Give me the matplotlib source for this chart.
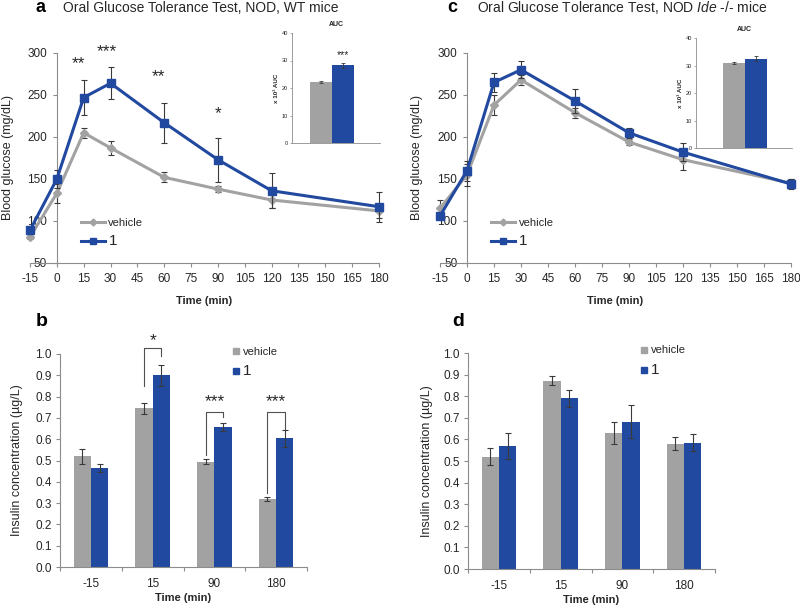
import matplotlib
matplotlib.use('Agg')
import matplotlib.pyplot as plt
from matplotlib.lines import Line2D

plt.rcParams['font.family'] = ['Liberation Sans', 'DejaVu Sans']
plt.rcParams['mathtext.fontset'] = 'custom'
plt.rcParams['mathtext.rm'] = 'Liberation Sans'
plt.rcParams['mathtext.it'] = 'Liberation Sans:italic'
plt.rcParams['axes.unicode_minus'] = False

GRAY = '#a2a2a2'
BLUE = '#2149a0'
ERR = '#3a3a3a'
AXC = '#8c8c8c'
TXT = '#262626'

# OGTT time points (min)
ogtt_time = [-15, 0, 15, 30, 60, 90, 120, 180]

# panel a: NOD, WT mice
wt_vehicle = [81, 133, 205, 187, 152, 138, 125, 112]
wt_vehicle_err = [3, 11, 6, 8, 6, 4, 10, 8]
wt_cmpd = [89, 150, 247, 264, 217, 173, 136, 117]
wt_cmpd_err = [4, 11, 21, 19, 24, 26, 21, 18]
wt_star_x = [12, 28, 57, 90]
wt_star_y = [287, 302, 272, 228]
wt_star_txt = ['**', '***', '**', '*']

# panel c: NOD Ide -/- mice
ide_vehicle = [115, 155, 238, 268, 229, 194, 173, 145]
ide_vehicle_err = [10, 13, 12, 6, 6, 4, 12, 5]
ide_cmpd = [106, 160, 265, 280, 243, 205, 182, 144]
ide_cmpd_err = [3, 12, 11, 10, 14, 6, 11, 6]

# AUC insets (x 10^3)
wt_auc = [22.3, 28.2]
wt_auc_err = [0.3, 1.0]
ide_auc = [30.8, 32.5]
ide_auc_err = [0.3, 0.9]

# insulin (ug/L)
ins_time = ['-15', '15', '90', '180']
wt_ins_vehicle = [0.52, 0.745, 0.495, 0.32]
wt_ins_vehicle_err = [0.035, 0.025, 0.01, 0.01]
wt_ins_cmpd = [0.465, 0.90, 0.658, 0.605]
wt_ins_cmpd_err = [0.02, 0.05, 0.02, 0.04]
ide_ins_vehicle = [0.52, 0.872, 0.63, 0.58]
ide_ins_vehicle_err = [0.04, 0.022, 0.05, 0.03]
ide_ins_cmpd = [0.57, 0.79, 0.682, 0.585]
ide_ins_cmpd_err = [0.06, 0.04, 0.075, 0.04]

# significance brackets in panel b: category, top, left end, right end, stars
br_cat = [1, 2, 3]
br_top = [1.03, 0.727, 0.727]
br_left = [0.85, 0.527, 0.347]
br_right = [0.99, 0.703, 0.65]
br_star_y = [1.062, 0.775, 0.775]
br_star = ['*', '***', '***']

W, H = 800, 607
fig = plt.figure(figsize=(8, 6.07), dpi=100)


def px(x0, y0, x1, y1):
    # axes rectangle from pixel box (left, top, right, bottom)
    return [x0 / W, 1 - y1 / H, (x1 - x0) / W, (y1 - y0) / H]


def style_axes(ax):
    for s in ['top', 'right']:
        ax.spines[s].set_visible(False)
    for s in ['left', 'bottom']:
        ax.spines[s].set_color(AXC)
        ax.spines[s].set_linewidth(0.8)
    ax.tick_params(colors=AXC, labelcolor=TXT, width=0.8)
    ax.set_facecolor('none')


def ogtt_panel(ax, veh, veh_err, cmp, cmp_err, ylab_x):
    style_axes(ax)
    for vals, errs, col, mk, ms, lab, z in [
            (veh, veh_err, GRAY, 'D', 4.5, 'vehicle', 3),
            (cmp, cmp_err, BLUE, 's', 5.5, '1', 4)]:
        eb = ax.errorbar(ogtt_time, vals, yerr=errs, color=col, lw=2.2,
                         marker=mk, ms=ms, mec=col, ecolor=ERR, elinewidth=0.8,
                         capsize=2.5, capthick=0.8, label=lab, zorder=z)
        eb[0].set_clip_on(False)
        for part in eb[1] + eb[2]:
            part.set_clip_on(False)
    ax.set_xlim(-15, 180)
    ax.set_ylim(50, 300)
    ax.set_xticks(range(-15, 181, 15))
    ax.set_yticks(range(50, 301, 50))
    ax.spines['left'].set_position(('data', 0))
    ax.tick_params(axis='both', direction='out', length=3, labelsize=8.5, pad=4)
    ax.set_xlabel('Time (min)', fontsize=8, fontweight='bold', color=TXT)
    ax.xaxis.set_label_coords(0.5, -0.155)
    ax.set_ylabel('Blood glucose (mg/dL)', fontsize=9, color=TXT, va='center')
    ax.yaxis.set_label_coords(ylab_x, 0.5)
    h = [Line2D([], [], color=GRAY, lw=2.2, marker='D', ms=3.5),
         Line2D([], [], color=BLUE, lw=2.2, marker='s', ms=5)]
    leg = ax.legend(h, ['vehicle', '1'], loc='upper left',
                    bbox_to_anchor=(0.145, 0.215), frameon=False, fontsize=8,
                    handlelength=2.2, handletextpad=0.3, labelspacing=0.55,
                    borderpad=0, borderaxespad=0)
    leg.get_texts()[1].set_fontsize(11)
    for t in leg.get_texts():
        t.set_color(TXT)


def auc_inset(ax, vals, errs, xpos, width):
    style_axes(ax)
    ax.bar(xpos, vals, width=width, color=[GRAY, BLUE], yerr=errs,
           error_kw=dict(ecolor=ERR, elinewidth=0.6, capsize=1.2, capthick=0.6))
    ax.set_xlim(0, 4)
    ax.set_ylim(0, 40)
    ax.set_yticks([0, 10, 20, 30, 40])
    ax.set_xticks([])
    ax.spines['left'].set_linewidth(0.6)
    ax.spines['bottom'].set_linewidth(0.6)
    ax.tick_params(axis='y', length=1.5, labelsize=4, pad=1.5, width=0.5)
    ax.set_ylabel('x 10³ AUC', fontsize=4.5, fontweight='bold', labelpad=2,
                  color=TXT)
    ax.set_title('AUC', fontsize=5, fontweight='bold', pad=5, color=TXT)


def insulin_panel(ax, veh, veh_err, cmp, cmp_err, ylab_x, leg_anchor):
    style_axes(ax)
    w = 0.28
    xs = range(len(ins_time))
    ek = dict(ecolor=ERR, elinewidth=0.8, capsize=2.5, capthick=0.8)
    ax.bar([x - w / 2 for x in xs], veh, width=w, color=GRAY, yerr=veh_err,
           error_kw=ek, label='vehicle')
    ax.bar([x + w / 2 for x in xs], cmp, width=w, color=BLUE, yerr=cmp_err,
           error_kw=ek, label='1')
    ax.set_xlim(-0.5, len(ins_time) - 0.5)
    ax.set_ylim(0, 1.0)
    ax.set_yticks([i / 10 for i in range(11)])
    ax.set_yticklabels([f'{i / 10:.1f}' for i in range(11)])
    ax.set_xticks(list(xs))
    ax.set_xticklabels(ins_time)
    ax.set_xticks([x - 0.5 for x in range(len(ins_time) + 1)], minor=True)
    ax.tick_params(axis='x', which='major', length=0, pad=8, labelsize=8.5)
    ax.tick_params(axis='x', which='minor', length=3, direction='out',
                   color=AXC, width=0.8)
    ax.tick_params(axis='y', length=3, direction='out', labelsize=8.5, pad=3)
    ax.set_xlabel('Time (min)', fontsize=8, fontweight='bold', color=TXT)
    ax.xaxis.set_label_coords(0.5, -0.12)
    ax.set_ylabel('Insulin concentration (µg/L)', fontsize=9, color=TXT,
                  va='center')
    ax.yaxis.set_label_coords(ylab_x, 0.5)
    h = [Line2D([], [], color=GRAY, marker='s', ls='', ms=4),
         Line2D([], [], color=BLUE, marker='s', ls='', ms=4)]
    leg = ax.legend(h, ['vehicle', '1'], loc='upper left',
                    bbox_to_anchor=leg_anchor, frameon=False, fontsize=8,
                    handlelength=0.6, handletextpad=0.3, labelspacing=0.7,
                    borderpad=0, borderaxespad=0)
    leg.get_texts()[1].set_fontsize(11)
    for t in leg.get_texts():
        t.set_color(TXT)


# panel a
ax_a = fig.add_axes(px(30, 53, 379, 263))
ogtt_panel(ax_a, wt_vehicle, wt_vehicle_err, wt_cmpd, wt_cmpd_err, -0.063)
for x, y, s in zip(wt_star_x, wt_star_y, wt_star_txt):
    ax_a.text(x, y, s, ha='center', va='center', fontsize=12.5, color=TXT)

ax_ai = fig.add_axes(px(292, 33, 380, 143))
auc_inset(ax_ai, wt_auc, wt_auc_err, [1.3, 2.3], 1.0)
ax_ai.text(2.3, 31.8, '***', ha='center', va='center', fontsize=7.5, color=TXT)

# panel c
ax_c = fig.add_axes(px(440, 53, 791, 263))
ogtt_panel(ax_c, ide_vehicle, ide_vehicle_err, ide_cmpd, ide_cmpd_err, -0.066)

ax_ci = fig.add_axes(px(696, 38, 792, 148))
auc_inset(ax_ci, ide_auc, ide_auc_err, [1.58, 2.5], 0.92)

# panel b
ax_b = fig.add_axes(px(60, 354, 307, 567))
insulin_panel(ax_b, wt_ins_vehicle, wt_ins_vehicle_err, wt_ins_cmpd,
              wt_ins_cmpd_err, -0.174, (0.70, 1.035))
bw = 0.28
for c, top, lo, ro, sy, s in zip(br_cat, br_top, br_left, br_right,
                                 br_star_y, br_star):
    ax_b.plot([c - bw / 2, c - bw / 2, c + bw / 2, c + bw / 2],
              [lo, top, top, ro], color='#505050', lw=0.8, clip_on=False)
    ax_b.text(c, sy, s, ha='center', va='center', fontsize=12.5, color=TXT)

# panel d
ax_d = fig.add_axes(px(468, 353, 715, 569))
insulin_panel(ax_d, ide_ins_vehicle, ide_ins_vehicle_err, ide_ins_cmpd,
              ide_ins_cmpd_err, -0.166, (0.70, 1.035))

# panel letters and titles
fig.text(36 / W, 1 - 12 / H, 'a', fontsize=13, fontweight='bold', va='baseline')
fig.text(63 / W, 1 - 12 / H, 'Oral Glucose Tolerance Test, NOD, WT mice',
         fontsize=10, va='baseline', color=TXT)
fig.text(447 / W, 1 - 12 / H, 'c', fontsize=13, fontweight='bold', va='baseline')
fig.text(477 / W, 1 - 12 / H, 'Oral Glucose Tolerance Test, NOD $Ide$ -/- mice',
         fontsize=10, va='baseline', color=TXT)
fig.text(36 / W, 1 - 326 / H, 'b', fontsize=14, fontweight='bold', va='baseline')
fig.text(452 / W, 1 - 326 / H, 'd', fontsize=14, fontweight='bold', va='baseline')

fig.savefig('out.png', dpi=100)
